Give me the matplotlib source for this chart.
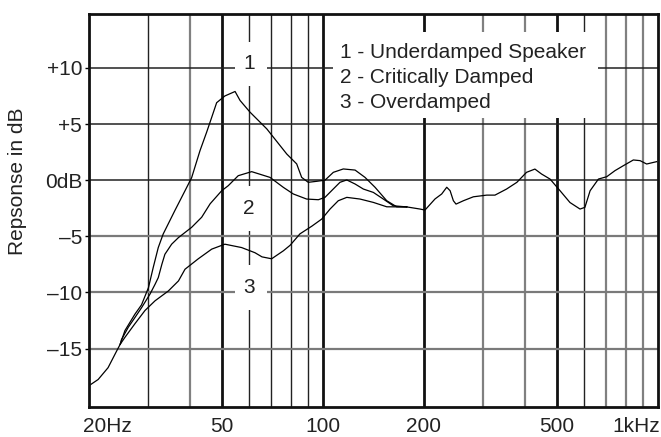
import matplotlib
matplotlib.use("Agg")
import matplotlib.pyplot as plt
import matplotlib.transforms as mtransforms
from matplotlib.patches import Rectangle

plt.rcParams['font.family'] = ['Liberation Sans', 'DejaVu Sans']

# ---- data (frequency in Hz, response in dB) ----
low_freq = [20.0, 21.3, 22.8, 24.2, 24.8]
low_db = [-18.3, -17.75, -16.7, -15.2, -14.6]

c1_freq = [24.8, 25.6, 27.4, 28.7, 30.1, 31.1, 32.2, 33.3, 36.1, 38.7, 40.5, 42.9, 44.9,
           46.5, 48.1, 50.9, 54.6, 56.5, 60.5, 67.9, 77.9, 83.4, 86.3, 90.3, 95.7, 101.3,
           107.3, 114.9, 124.6, 133.4, 142.9, 154.9, 165.9, 177.7]
c1_db = [-14.6, -13.4, -11.95, -11.1, -9.57, -7.78, -6.0, -4.8, -2.7, -0.94, 0.22, 2.63, 4.27,
         5.6, 6.9, 7.5, 7.9, 7.1, 6.06, 4.57, 2.33, 1.45, 0.25, -0.19, -0.1, 0.0,
         0.7, 1.0, 0.9, 0.25, -0.63, -1.83, -2.37, -2.38]

c2_freq = [24.8, 25.0, 26.2, 27.4, 28.7, 30.4, 31.5, 32.2, 33.0, 33.7, 35.3, 37.0, 40.5, 43.4,
           46.0, 49.8, 52.1, 55.8, 61.2, 69.4, 76.1, 81.5, 89.3, 96.8, 101.3, 107.3, 112.3,
           117.7, 124.6, 131.9, 141.3, 151.3, 162.0, 177.7]
c2_db = [-14.6, -14.2, -13.1, -12.25, -11.36, -10.16, -9.27, -8.68, -7.5, -6.6, -5.7, -5.11, -4.2, -3.3,
         -2.1, -0.94, -0.49, 0.4, 0.76, 0.25, -0.64, -1.23, -1.68, -1.74, -1.53, -0.78, -0.19,
         0.02, -0.34, -0.79, -1.09, -1.68, -2.28, -2.38]

c3_freq = [24.8, 25.6, 27.4, 29.4, 31.5, 34.5, 37.0, 38.7, 42.4, 46.5, 50.9, 57.1, 62.6, 65.7,
           70.2, 76.1, 79.7, 85.3, 92.5, 99.1, 104.9, 111.0, 117.7, 128.9, 141.3, 154.9, 177.7]
c3_db = [-14.6, -14.0, -12.8, -11.6, -10.74, -9.87, -8.97, -7.93, -7.0, -6.14, -5.7, -6.0, -6.46, -6.83,
         -7.0, -6.29, -5.8, -4.78, -4.1, -3.46, -2.57, -1.83, -1.53, -1.68, -1.98, -2.37, -2.38]

high_freq = [177.7, 194.7, 201.5, 215.9, 226.0, 234.0, 239.5, 244.9, 249.4, 262.4, 281.0, 308.0,
             326.0, 353.0, 379.0, 405.0, 429.0, 449.0, 476.0, 510.0, 546.0, 585.0, 605.0, 627.0,
             664.0, 703.0, 744.0, 788.0, 844.0, 884.0, 925.0, 968.0, 991.0]
high_db = [-2.38, -2.57, -2.66, -1.67, -1.23, -0.63, -0.94, -1.83, -2.13, -1.83, -1.48, -1.33,
           -1.33, -0.79, -0.19, 0.7, 0.99, 0.55, 0.1, -0.94, -1.99, -2.57, -2.42, -0.94,
           0.1, 0.31, 0.85, 1.29, 1.8, 1.74, 1.44, 1.58, 1.65]

x_ticks = [20, 50, 100, 200, 500, 1000]
x_tick_labels = ['20Hz', '50', '100', '200', '500', '1kHz']
y_ticks = [10, 5, 0, -5, -10, -15]
y_tick_labels = ['+10', '+5', '0dB', '\u20135', '\u201310', '\u201315']
major_lines = [50, 100, 200, 500]
minor_lines = [30, 40, 60, 70, 80, 90, 300, 400, 600, 700, 800, 900]
curve_labels = ['1', '2', '3']
curve_label_db = [10.35, -2.5, -9.55]
legend_lines = ['1 - Underdamped Speaker', '2 - Critically Damped', '3 - Overdamped']

# ---- figure ----
fig = plt.figure(figsize=(6.61, 4.37), dpi=100)
ax = fig.add_axes([89 / 661, 1 - 407 / 437, 569 / 661, 393 / 437])
ax.set_xscale('log')
ax.set_xlim(20, 1000)
ax.set_ylim(-20.2, 14.8)

# grid
grey_minor = {40, 300, 400, 700, 800, 900}
for f in minor_lines:
    if f in grey_minor:
        ax.axvline(f, color='#808080', lw=1.6, zorder=1)
    else:
        ax.axvline(f, color='#222222', lw=1.0, zorder=1)
for f in major_lines:
    ax.axvline(f, color='#111111', lw=2.0, zorder=1)
for v in y_ticks:
    if v < 0:
        ax.axhline(v, color='#7a7a7a', lw=1.6, zorder=1)
    else:
        ax.axhline(v, color='#222222', lw=1.1, zorder=1)

# white boxes that break the grid around the curve numbers and the legend
for d in curve_label_db:
    ax.add_patch(Rectangle((54.6, d - 2.0), 68.1 - 54.6, 4.0, facecolor='white',
                           edgecolor='none', zorder=2))
ax.add_patch(Rectangle((107, 5.5), 660 - 107, 13.2 - 5.5, facecolor='white',
                       edgecolor='none', zorder=2))

# curves
for fr, db in [(low_freq, low_db), (c1_freq, c1_db), (c2_freq, c2_db),
               (c3_freq, c3_db), (high_freq, high_db)]:
    ax.plot(fr, db, color='black', lw=0.9, zorder=3)

# curve numbers
for lab, d in zip(curve_labels, curve_label_db):
    ax.text(60, d, lab, ha='center', va='center', fontsize=15, color='#222222', zorder=4)

# legend text
for i, t in enumerate(legend_lines):
    ax.text(112, 11.4 - i * 2.22, t, ha='left', va='center', fontsize=15,
            color='#222222', zorder=4)

# ticks
ax.set_xticks(x_ticks)
ax.set_xticklabels(x_tick_labels)
ax.xaxis.set_minor_locator(matplotlib.ticker.NullLocator())
ax.set_yticks(y_ticks)
ax.set_yticklabels(y_tick_labels)
ax.tick_params(axis='x', length=0, pad=7, labelsize=15, labelcolor='#222222')
ax.tick_params(axis='y', length=3, width=1, pad=2, labelsize=15, labelcolor='#222222')

xl = ax.get_xticklabels()
xl[0].set_ha('left')
xl[0].set_transform(xl[0].get_transform() + mtransforms.ScaledTranslation(-6 / 100, 0, fig.dpi_scale_trans))
xl[-1].set_ha('right')
xl[-1].set_transform(xl[-1].get_transform() + mtransforms.ScaledTranslation(2 / 100, 0, fig.dpi_scale_trans))

for s in ax.spines.values():
    s.set_linewidth(2.0)
    s.set_color('#111111')
    s.set_zorder(5)

fig.text(18 / 661, 1 - 181 / 437, 'Repsonse in dB', rotation=90, ha='center', va='center',
         fontsize=15, color='#222222')

fig.savefig('out.png', dpi=100)
